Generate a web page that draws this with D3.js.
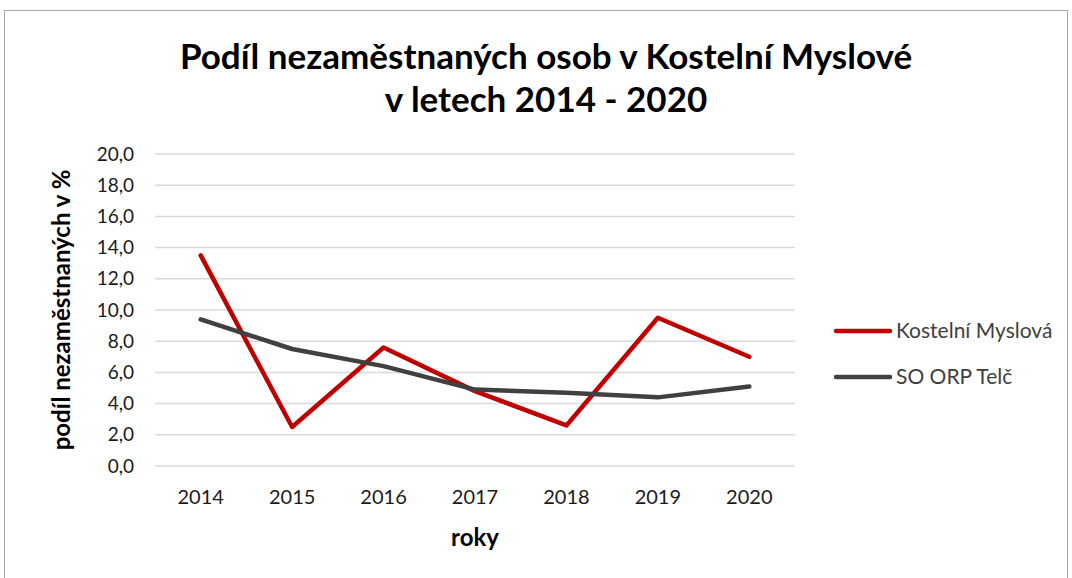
<!DOCTYPE html>
<meta charset="utf-8">
<html>
<head>
<script src="https://cdn.jsdelivr.net/npm/d3@7"></script>
<style>
body { margin: 0; background: #fff; }
text { font-family: Lato, "Open Sans", sans-serif; }
</style>
</head>
<body>
<script>

// data
var years = ["2014", "2015", "2016", "2017", "2018", "2019", "2020"];
var kostelni = [13.5, 2.5, 7.6, 4.8, 2.6, 9.5, 7.0];
var orpTelc = [9.4, 7.5, 6.4, 4.9, 4.7, 4.4, 5.1];
var yTicks = [0, 2, 4, 6, 8, 10, 12, 14, 16, 18, 20];
var seriesNames = ["Kostelní Myslová", "SO ORP Telč"];
var seriesColors = ["#c00000", "#404040"];

var width = 1072, height = 578;
var plotLeft = 155, plotRight = 795, plotTop = 154, plotBottom = 466;

var svg = d3.select("body").append("svg")
    .attr("width", width)
    .attr("height", height);

// outer border
svg.append("rect")
    .attr("x", 4.5).attr("y", 10.5)
    .attr("width", 1063).attr("height", 590)
    .attr("fill", "none")
    .attr("stroke", "#a6a6a6")
    .attr("stroke-width", 1);

var x = d3.scalePoint()
    .domain(years)
    .range([plotLeft, plotRight])
    .padding(0.5);

var y = d3.scaleLinear()
    .domain([0, 20])
    .range([plotBottom, plotTop]);

// gridlines
svg.append("g")
    .selectAll("line")
    .data(yTicks)
    .enter().append("line")
    .attr("x1", plotLeft).attr("x2", plotRight)
    .attr("y1", d => y(d)).attr("y2", d => y(d))
    .attr("stroke", "#d9d9d9")
    .attr("stroke-width", 1.5);

// y tick labels
svg.append("g")
    .selectAll("text")
    .data(yTicks)
    .enter().append("text")
    .attr("x", 134)
    .attr("y", d => y(d))
    .attr("dy", "0.35em")
    .attr("text-anchor", "end")
    .attr("font-size", 19)
    .attr("fill", "#1a1a1a")
    .text(d => d.toFixed(1).replace(".", ","));

// x tick labels
svg.append("g")
    .selectAll("text")
    .data(years)
    .enter().append("text")
    .attr("x", d => x(d))
    .attr("y", 497)
    .attr("dy", "0.35em")
    .attr("text-anchor", "middle")
    .attr("font-size", 20)
    .attr("fill", "#1a1a1a")
    .text(d => d);

var line = d3.line()
    .x((d, i) => x(years[i]))
    .y(d => y(d));

[kostelni, orpTelc].forEach(function(vals, i) {
  svg.append("path")
      .datum(vals)
      .attr("d", line)
      .attr("fill", "none")
      .attr("stroke", seriesColors[i])
      .attr("stroke-width", 4.5)
      .attr("stroke-linejoin", "round")
      .attr("stroke-linecap", "round");
});

// legend
var legend = svg.append("g")
    .selectAll("g")
    .data(seriesNames)
    .enter().append("g")
    .attr("transform", (d, i) => "translate(836," + (331 + i * 46) + ")");

legend.append("line")
    .attr("x1", 0).attr("x2", 54)
    .attr("stroke", (d, i) => seriesColors[i])
    .attr("stroke-width", 4.5)
    .attr("stroke-linecap", "round");

legend.append("text")
    .attr("x", 60)
    .attr("dy", "0.35em")
    .attr("font-size", 21)
    .attr("fill", "#404040")
    .text(d => d);

// title
svg.append("text")
    .attr("x", 546).attr("y", 57)
    .attr("dy", "0.35em")
    .attr("text-anchor", "middle")
    .attr("font-size", 35)
    .attr("font-weight", "bold")
    .attr("fill", "#000")
    .text("Podíl nezaměstnaných osob v Kostelní Myslové");

svg.append("text")
    .attr("x", 546).attr("y", 100)
    .attr("dy", "0.35em")
    .attr("text-anchor", "middle")
    .attr("font-size", 35)
    .attr("font-weight", "bold")
    .attr("fill", "#000")
    .text("v letech 2014 - 2020");

// axis titles
svg.append("text")
    .attr("transform", "translate(62,310) rotate(-90)")
    .attr("dy", "0.35em")
    .attr("text-anchor", "middle")
    .attr("font-size", 24)
    .attr("font-weight", "bold")
    .text("podíl nezaměstnaných v %");

svg.append("text")
    .attr("x", 475).attr("y", 538)
    .attr("dy", "0.35em")
    .attr("text-anchor", "middle")
    .attr("font-size", 24)
    .attr("font-weight", "bold")
    .text("roky");

</script>
</body>
</html>
